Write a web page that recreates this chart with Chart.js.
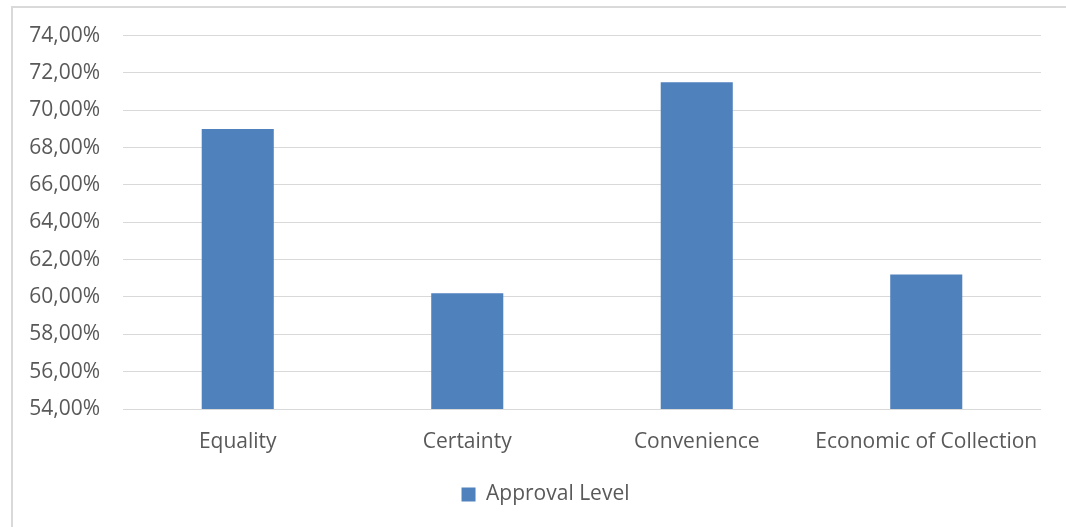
<!DOCTYPE html>
<html>
<head>
<meta charset="utf-8">
<script src="https://cdn.jsdelivr.net/npm/chart.js@4"></script>
<style>
  html, body { margin: 0; padding: 0; background: #fff; overflow: hidden; }
  #moldura {
    position: absolute; left: 11px; top: 6px; width: 1200px; height: 700px;
    border-left: 2px solid #d9d9d9; border-top: 2px solid #d9d9d9;
  }
  #grafico { position: absolute; left: 0; top: 0; }
</style>
</head>
<body>
<div id="moldura"></div>
<canvas id="grafico" width="1066" height="527"></canvas>
<script>
// Dados
const categorias = ["Equality", "Certainty", "Convenience", "Economic of Collection"];
const nivelAprovacao = [69.0, 60.2, 71.5, 61.2];
const nomeSerie = "Approval Level";
const eixoMin = 54;
const eixoMax = 74;
const passo = 2;

const corTexto = "#595959";
const corBarra = "#4f81bd";
const fonte = { family: "'Open Sans'", size: 21 };

const ctx = document.getElementById("grafico").getContext("2d");

// Empurra a legenda um pouco para a direita, como no original
const deslocaLegenda = {
  id: "deslocaLegenda",
  afterLayout(chart) {
    if (chart.legend) {
      chart.legend.left += 25;
      chart.legend.right += 25;
    }
  }
};

window.grafico = new Chart(ctx, {
  type: "bar",
  data: {
    labels: categorias,
    datasets: [{
      label: nomeSerie,
      data: nivelAprovacao,
      backgroundColor: corBarra,
      borderWidth: 0,
      barPercentage: 0.314,
      categoryPercentage: 1
    }]
  },
  options: {
    responsive: false,
    animation: false,
    devicePixelRatio: 1,
    layout: { padding: { top: 35, right: 25, bottom: 12, left: 0 } },
    plugins: {
      tooltip: { enabled: false },
      legend: {
        position: "bottom",
        labels: {
          boxWidth: 14,
          boxHeight: 14,
          padding: 10,
          color: corTexto,
          font: fonte
        }
      }
    },
    scales: {
      x: {
        grid: { display: false, drawTicks: false },
        border: { display: false },
        ticks: {
          color: corTexto,
          padding: 20,
          maxRotation: 0,
          font: fonte
        },
        afterFit: (escala) => { escala.height = 65; }
      },
      y: {
        min: eixoMin,
        max: eixoMax,
        grid: { color: "#d9d9d9", lineWidth: 1, drawTicks: false },
        border: { display: false },
        ticks: {
          stepSize: passo,
          color: corTexto,
          padding: 23,
          font: fonte,
          callback: (valor) => valor.toFixed(2).replace(".", ",") + "%"
        },
        afterFit: (escala) => { escala.width = 123; }
      }
    }
  },
  plugins: [deslocaLegenda]
});
</script>
</body>
</html>
